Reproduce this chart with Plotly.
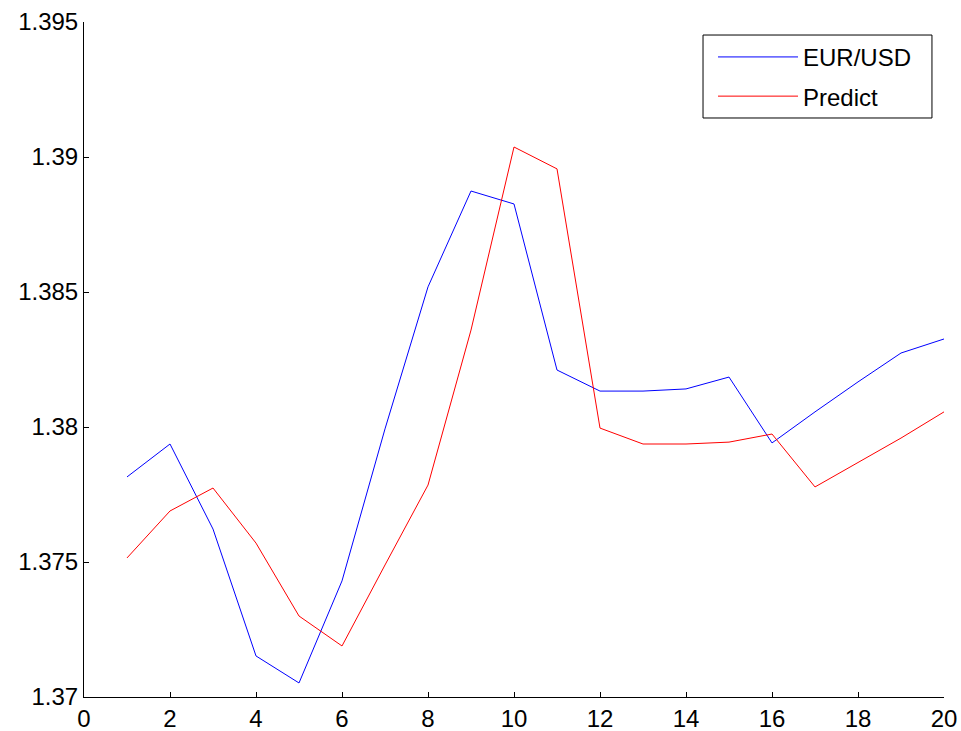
import plotly.graph_objects as go

# Day index
days = list(range(1, 21))

# Actual EUR/USD closing rate
eur_usd = [1.37815, 1.37937, 1.37622, 1.37152, 1.37052, 1.37430, 1.37993, 1.38519,
           1.38874, 1.38826, 1.38211, 1.38133, 1.38133, 1.38141, 1.38185, 1.37941,
           1.38056, 1.38167, 1.38274, 1.38326]

# Model prediction
predict = [1.37515, 1.37689, 1.37774, 1.37570, 1.37300, 1.37189, 1.37489, 1.37785,
           1.38359, 1.39037, 1.38956, 1.37996, 1.37937, 1.37937, 1.37944, 1.37974,
           1.37778, 1.37867, 1.37959, 1.38056]

x_ticks = [0, 2, 4, 6, 8, 10, 12, 14, 16, 18, 20]
y_ticks = [1.37, 1.375, 1.38, 1.385, 1.39, 1.395]
y_tick_text = ["1.37", "1.375", "1.38", "1.385", "1.39", "1.395"]

font_family = "Liberation Sans, Arial, sans-serif"
font_size = 24

fig = go.Figure()
fig.add_trace(go.Scatter(x=days, y=eur_usd, mode="lines", name="EUR/USD",
                         legendgroup="actual",
                         line=dict(color="#0000ff", width=1)))
fig.add_trace(go.Scatter(x=days, y=predict, mode="lines", name="Predict",
                         legendgroup="predict",
                         line=dict(color="#ff0000", width=1)))

# Legend frame drawn behind the legend entries
fig.add_shape(type="rect", xref="paper", yref="paper",
              x0=0.7198, x1=0.986, y0=0.8578, y1=0.9807,
              line=dict(color="black", width=1), fillcolor="white", layer="below")

fig.update_layout(
    width=961, height=731,
    margin=dict(l=84, r=17, t=22, b=34, autoexpand=False),
    paper_bgcolor="white", plot_bgcolor="white",
    font=dict(family=font_family, size=font_size, color="black"),
    showlegend=True,
    legend=dict(
        x=0.7314, y=0.981, xanchor="left", yanchor="top",
        bgcolor="rgba(0,0,0,0)", borderwidth=0,
        font=dict(family=font_family, size=font_size, color="black"),
        itemwidth=80, tracegroupgap=5,
    ),
)

fig.update_xaxes(
    range=[0, 20], tickvals=x_ticks, ticks="inside", ticklen=5,
    tickcolor="black", showline=True, linecolor="black", linewidth=1,
    showgrid=False, zeroline=False, mirror=False, automargin=False,
    tickfont=dict(family=font_family, size=font_size, color="black"),
)
fig.update_yaxes(
    range=[1.37, 1.395], tickvals=y_ticks, ticktext=y_tick_text,
    ticks="inside", ticklen=5, tickcolor="black",
    showline=True, linecolor="black", linewidth=1,
    showgrid=False, zeroline=False, mirror=False, automargin=False,
    tickfont=dict(family=font_family, size=font_size, color="black"),
)

fig.write_html("out.html")
